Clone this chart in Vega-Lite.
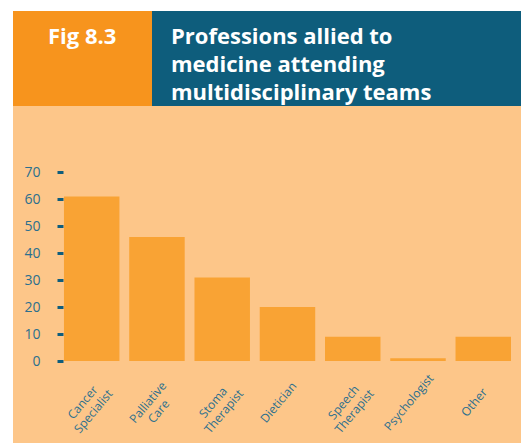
{
  "$schema": "https://vega.github.io/schema/vega-lite/v6.json",
  "background": "white",
  "padding": {"left": 13, "top": 11, "right": 0, "bottom": 0},
  "spacing": 0,
  "config": {"view": {"stroke": null}, "concat": {"spacing": 0}, "font": "Open Sans"},
  "vconcat": [
    {
      "spacing": 0,
      "hconcat": [
        {
          "width": 139,
          "height": 95,
          "view": {"fill": "#F7941D", "stroke": null},
          "title": {"text": "Fig 8.3", "anchor": "start", "frame": "group", "orient": "top", "baseline": "alphabetic", "offset": 0, "dx": 35, "dy": 55, "fontSize": 22, "fontWeight": "bold", "color": "white", "font": "Open Sans"},
          "data": {"values": [{"t": ""}]},
          "mark": {"type": "text"},
          "encoding": {"text": {"field": "t"}}
        },
        {
          "width": 369,
          "height": 95,
          "view": {"fill": "#0E5D7C", "stroke": null},
          "title": {"text": ["Professions allied to", "medicine attending", "multidisciplinary teams"], "anchor": "start", "frame": "group", "orient": "top", "baseline": "alphabetic", "offset": 0, "dx": 19, "dy": 111, "lineHeight": 28, "fontSize": 22, "fontWeight": "bold", "color": "white", "font": "Open Sans"},
          "data": {"values": [{"t": ""}]},
          "mark": {"type": "text"},
          "encoding": {"text": {"field": "t"}}
        }
      ]
    },
    {
      "width": 508,
      "height": 337,
      "view": {"fill": "#FDC689", "stroke": null},
      "data": {"values": [
        {"profession": "Cancer Specialist", "count": 61},
        {"profession": "Palliative Care", "count": 46},
        {"profession": "Stoma Therapist", "count": 31},
        {"profession": "Dietician", "count": 20},
        {"profession": "Speech Therapist", "count": 9},
        {"profession": "Psychologist", "count": 1},
        {"profession": "Other", "count": 9}
      ]},
      "mark": {"type": "bar", "color": "#F9A334"},
      "encoding": {
        "x": {
          "field": "profession", "type": "nominal", "sort": null,
          "scale": {"paddingInner": 0.15, "paddingOuter": 0.467, "align": 0.836},
          "axis": {
            "title": null, "orient": "bottom", "offset": -82,
            "domain": false, "ticks": false, "tickSize": 0,
            "labelAngle": -50, "labelAlign": "center", "labelBaseline": "middle",
            "labelPadding": 41, "labelOffset": -9,
            "labelExpr": "split(datum.label, ' ')",
            "labelFont": "Open Sans", "labelFontSize": 12, "labelLineHeight": 14,
            "labelColor": "#2B6F8E", "labelOverlap": false, "labelBound": false
          }
        },
        "y": {
          "field": "count", "type": "quantitative",
          "scale": {"domain": [-30.4, 94.6], "nice": false},
          "axis": {
            "title": null, "orient": "left", "offset": -50,
            "values": [0, 10, 20, 30, 40, 50, 60, 70],
            "grid": false, "domain": false,
            "tickSize": 6, "tickWidth": 3, "tickColor": "#0E5D7C",
            "labelPadding": 17, "labelFont": "Open Sans", "labelFontSize": 14,
            "labelColor": "#2B6F8E"
          }
        }
      }
    }
  ]
}
